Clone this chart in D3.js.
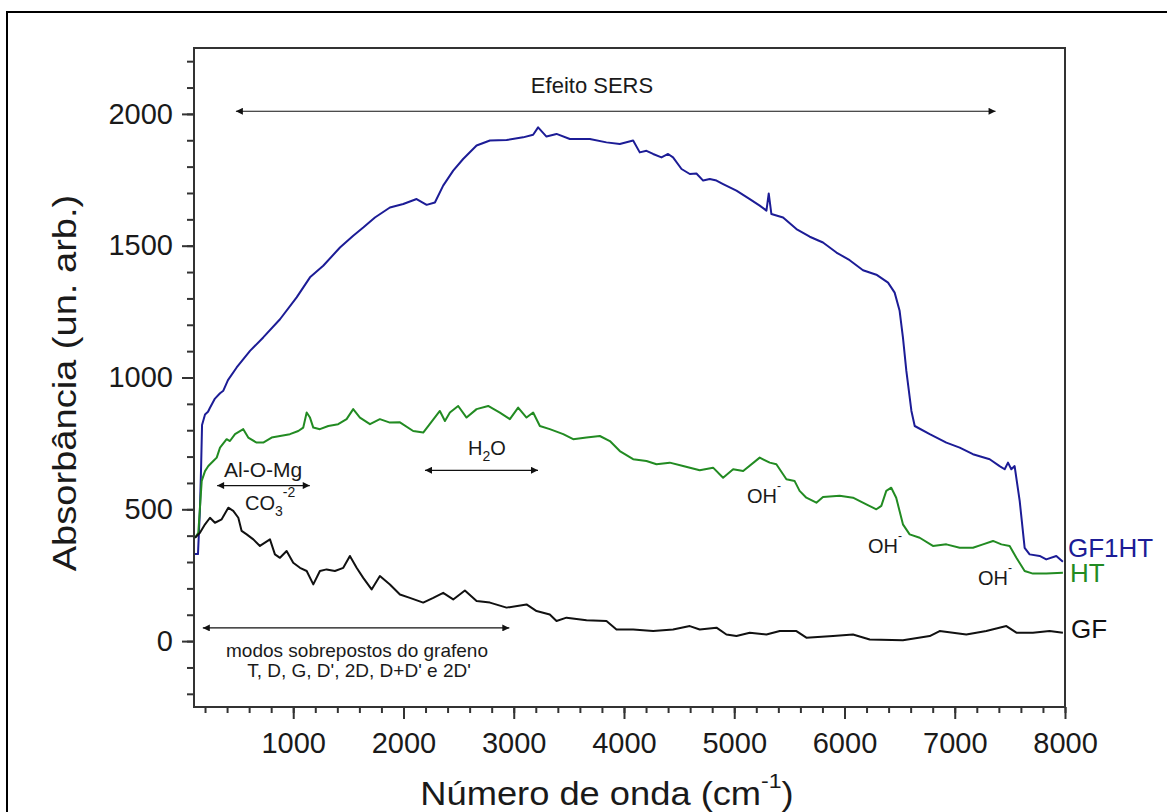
<!DOCTYPE html>
<html lang="pt">
<head>
<meta charset="UTF-8">
<title>Absorbância GF / HT / GF1HT</title>
<script src="https://cdn.jsdelivr.net/npm/d3@7"></script>
<style>
  body { margin: 0; background: #fff; }
  svg { display: block; font-family: "Liberation Sans", Arial, sans-serif; }
</style>
</head>
<body>
<svg id="chart" width="1167" height="812"></svg>
<script>
// wavenumber (cm-1) / absorbance
var gf1htX = [109, 136, 154, 165, 173, 200, 227, 245, 290, 336, 366, 408, 487, 608, 728, 880, 1031, 1152, 1272, 1424, 1544, 1635, 1741, 1877, 1998, 2119, 2210, 2285, 2360, 2451, 2541, 2663, 2784, 2935, 3085, 3176, 3221, 3297, 3388, 3509, 3690, 3841, 3962, 4083, 4143, 4204, 4264, 4340, 4400, 4445, 4522, 4597, 4657, 4718, 4778, 4839, 4899, 5020, 5141, 5231, 5292, 5313, 5337, 5443, 5564, 5685, 5805, 5927, 6047, 6168, 6289, 6395, 6455, 6500, 6530, 6561, 6607, 6637, 6773, 6924, 7045, 7165, 7317, 7407, 7453, 7483, 7513, 7543, 7589, 7634, 7679, 7770, 7830, 7921, 7981];
var gf1htY = [330, 330, 500, 670, 820, 860, 870, 885, 920, 940, 950, 990, 1038, 1101, 1152, 1221, 1304, 1380, 1424, 1493, 1538, 1569, 1607, 1645, 1658, 1677, 1655, 1664, 1728, 1785, 1829, 1880, 1899, 1901, 1911, 1921, 1949, 1914, 1924, 1905, 1905, 1892, 1886, 1899, 1854, 1860, 1848, 1835, 1848, 1835, 1791, 1772, 1774, 1747, 1753, 1747, 1734, 1709, 1677, 1652, 1633, 1698, 1620, 1607, 1563, 1534, 1512, 1474, 1445, 1407, 1390, 1360, 1322, 1253, 1152, 1025, 873, 816, 785, 753, 734, 709, 690, 664, 652, 677, 652, 664, 532, 354, 329, 323, 310, 323, 301];

var htX = [109, 139, 170, 200, 230, 275, 306, 336, 396, 426, 472, 547, 592, 668, 728, 804, 880, 970, 1046, 1091, 1122, 1152, 1182, 1242, 1318, 1408, 1484, 1544, 1605, 1696, 1786, 1877, 1968, 2088, 2179, 2330, 2376, 2421, 2496, 2572, 2663, 2768, 2874, 2965, 3040, 3116, 3176, 3237, 3327, 3449, 3539, 3660, 3781, 3872, 3962, 4083, 4204, 4295, 4415, 4536, 4687, 4808, 4899, 4990, 5081, 5231, 5322, 5382, 5473, 5548, 5593, 5654, 5745, 5805, 5956, 6077, 6198, 6289, 6334, 6379, 6424, 6469, 6530, 6591, 6682, 6802, 6924, 7045, 7165, 7256, 7347, 7423, 7498, 7559, 7634, 7709, 7830, 7981];
var htY = [392, 411, 608, 645, 664, 683, 696, 734, 766, 759, 785, 804, 772, 753, 753, 772, 778, 785, 797, 810, 867, 848, 810, 804, 816, 823, 842, 880, 848, 823, 842, 829, 830, 797, 791, 873, 835, 867, 892, 848, 880, 892, 867, 842, 886, 848, 867, 816, 804, 785, 766, 772, 778, 759, 721, 690, 683, 671, 677, 664, 648, 658, 620, 652, 645, 696, 677, 671, 614, 607, 570, 544, 525, 547, 551, 544, 519, 500, 513, 570, 582, 544, 443, 405, 392, 361, 367, 354, 354, 367, 380, 367, 361, 316, 266, 256, 256, 259];

var gfX = [109, 154, 200, 245, 290, 351, 411, 456, 502, 532, 578, 638, 698, 789, 834, 880, 940, 1000, 1061, 1122, 1182, 1242, 1303, 1378, 1454, 1514, 1575, 1635, 1711, 1786, 1877, 1968, 2058, 2179, 2270, 2360, 2451, 2557, 2663, 2784, 2935, 3116, 3207, 3327, 3388, 3479, 3660, 3841, 3932, 4083, 4264, 4445, 4597, 4687, 4839, 4929, 5020, 5141, 5292, 5413, 5564, 5654, 5896, 6077, 6229, 6530, 6773, 6863, 7105, 7286, 7468, 7559, 7709, 7860, 7981];
var gfY = [392, 411, 443, 468, 449, 462, 506, 494, 468, 418, 405, 386, 361, 386, 329, 316, 342, 297, 278, 266, 215, 266, 272, 266, 278, 323, 278, 240, 196, 247, 215, 177, 164, 146, 164, 183, 158, 192, 152, 146, 127, 139, 114, 101, 76, 89, 79, 76, 44, 44, 38, 44, 57, 44, 51, 25, 19, 32, 25, 38, 38, 13, 19, 25, 6, 3, 19, 38, 25, 38, 57, 32, 32, 38, 32];

var seriesNames = ["GF1HT", "HT", "GF"];
var seriesColors = ["#1c1c96", "#228b22", "#111111"];

var xTicksMajor = [1000, 2000, 3000, 4000, 5000, 6000, 7000, 8000];
var yTicksMajor = [0, 500, 1000, 1500, 2000];

var svg = d3.select("#chart");

var plotL = 194, plotR = 1065, plotT = 48, plotB = 707;

var x = d3.scaleLinear().domain([100, 8000]).range([plotL, plotR]);
var y = d3.scaleLinear().domain([-250, 2250]).range([plotB, plotT]);

// outer border of the figure
svg.append("path")
  .attr("d", "M7,812 L7,12 L1167,12")
  .attr("fill", "none")
  .attr("stroke", "#000")
  .attr("stroke-width", 2);

// ticks
var xMinor = d3.range(200, 8001, 200);
var yMinor = d3.range(-200, 2201, 100);

svg.append("g").attr("transform", "translate(0," + plotB + ")")
  .call(d3.axisBottom(x).tickValues(xMinor).tickSize(6).tickFormat(""));
svg.append("g").attr("transform", "translate(0," + plotB + ")")
  .call(d3.axisBottom(x).tickValues(xTicksMajor).tickSize(12).tickPadding(13).tickFormat(d3.format("d")));
svg.append("g").attr("transform", "translate(" + plotL + ",0)")
  .call(d3.axisLeft(y).tickValues(yMinor).tickSize(7).tickFormat(""));
svg.append("g").attr("transform", "translate(" + plotL + ",0)")
  .call(d3.axisLeft(y).tickValues(yTicksMajor).tickSize(12).tickPadding(9).tickFormat(d3.format("d")));

svg.selectAll(".domain").remove();
svg.selectAll(".tick line").attr("stroke", "#333").attr("stroke-width", 2);
svg.selectAll(".tick text")
  .attr("font-family", "'Liberation Sans', Arial, sans-serif")
  .attr("font-size", 29)
  .attr("fill", "#1a1a1a");

// frame
svg.append("rect")
  .attr("x", plotL).attr("y", plotT)
  .attr("width", plotR - plotL).attr("height", plotB - plotT)
  .attr("fill", "none")
  .attr("stroke", "#333")
  .attr("stroke-width", 2);

// curves
var line = d3.line()
  .x(function (d) { return x(d[0]); })
  .y(function (d) { return y(d[1]); });

var allSeries = [d3.zip(gf1htX, gf1htY), d3.zip(htX, htY), d3.zip(gfX, gfY)];

svg.selectAll("path.serie")
  .data(allSeries)
  .enter()
  .append("path")
  .attr("class", "serie")
  .attr("d", line)
  .attr("fill", "none")
  .attr("stroke", function (d, i) { return seriesColors[i]; })
  .attr("stroke-width", 2)
  .attr("stroke-linejoin", "round");

// series labels at the right
var labelPos = [[1068, 557], [1070, 582], [1071, 638]];
svg.selectAll("text.serieLabel")
  .data(seriesNames)
  .enter()
  .append("text")
  .attr("class", "serieLabel")
  .attr("x", function (d, i) { return labelPos[i][0]; })
  .attr("y", function (d, i) { return labelPos[i][1]; })
  .attr("font-size", 26)
  .attr("fill", function (d, i) { return seriesColors[i]; })
  .text(function (d) { return d; });

// arrowheads
var defs = svg.append("defs");
defs.append("marker")
  .attr("id", "ah")
  .attr("viewBox", "0 0 10 10")
  .attr("refX", 10).attr("refY", 5)
  .attr("markerWidth", 10).attr("markerHeight", 7)
  .attr("markerUnits", "userSpaceOnUse")
  .attr("orient", "auto-start-reverse")
  .append("path")
  .attr("d", "M0,0 L10,5 L0,10 Z")
  .attr("fill", "#111");

function arrow(x1, x2, yv) {
  svg.append("line")
    .attr("x1", x(x1)).attr("x2", x(x2))
    .attr("y1", y(yv)).attr("y2", y(yv))
    .attr("stroke", "#111")
    .attr("stroke-width", 1.2)
    .attr("marker-start", "url(#ah)")
    .attr("marker-end", "url(#ah)");
}

arrow(480, 7370, 2010);   // Efeito SERS
arrow(310, 1150, 590);    // Al-O-Mg
arrow(2195, 3220, 648);   // H2O
arrow(180, 2960, 50);     // modos do grafeno

function note(px, py, size, anchor) {
  return svg.append("text")
    .attr("x", px).attr("y", py)
    .attr("font-size", size)
    .attr("text-anchor", anchor || "start")
    .attr("fill", "#1a1a1a");
}

note(592, 93, 22, "middle").text("Efeito SERS");
note(224, 477, 21).text("Al-O-Mg");

var co3 = note(245, 510, 20);
co3.append("tspan").text("CO");
co3.append("tspan").attr("font-size", 14).attr("dy", 6).text("3");
co3.append("tspan").attr("font-size", 14).attr("dy", -19).text("-2");

var h2o = note(468, 455, 20);
h2o.append("tspan").text("H");
h2o.append("tspan").attr("font-size", 14).attr("dy", 6).text("2");
h2o.append("tspan").attr("dy", -6).text("O");

[[747, 503], [868, 553], [978, 585]].forEach(function (p) {
  var t = note(p[0], p[1], 20);
  t.append("tspan").text("OH");
  t.append("tspan").attr("font-size", 12).attr("dy", -13).text("-");
});

note(357, 657, 19, "middle").text("modos sobrepostos do grafeno");
note(359, 677, 19, "middle").text("T, D, G, D', 2D, D+D' e 2D'");

// axis titles (the original is a little stretched sideways)
var xt = svg.append("text")
  .attr("transform", "translate(607,805) scale(1.1,1)")
  .attr("text-anchor", "middle")
  .attr("font-size", 33)
  .attr("fill", "#1a1a1a");
xt.append("tspan").text("Número de onda (cm");
xt.append("tspan").attr("font-size", 21).attr("dy", -17).text("-1");
xt.append("tspan").attr("dy", 17).text(")");

svg.append("text")
  .attr("transform", "translate(76,383) rotate(-90) scale(1.12,1)")
  .attr("text-anchor", "middle")
  .attr("font-size", 34)
  .attr("fill", "#1a1a1a")
  .text("Absorbância (un. arb.)");
</script>
</body>
</html>
